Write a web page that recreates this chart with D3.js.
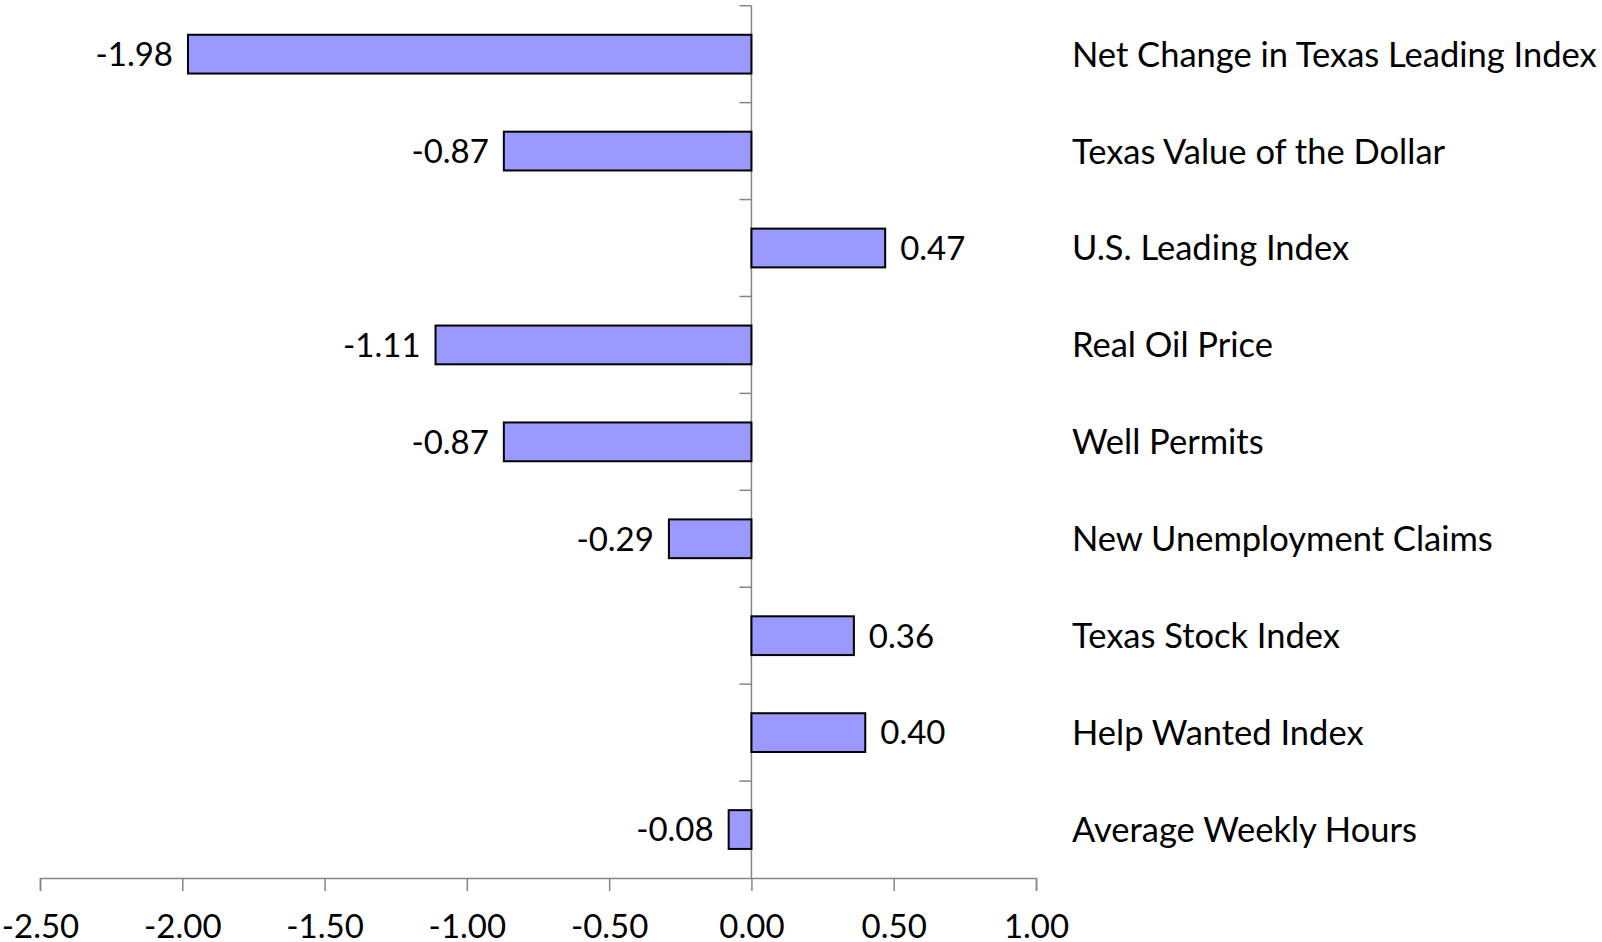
<!DOCTYPE html>
<html>
<head>
<meta charset="utf-8">
<script src="https://cdn.jsdelivr.net/npm/d3@7"></script>
<style>
  body { margin: 0; background: #fff; }
  text { font-family: Lato, "Open Sans", sans-serif; fill: #000; }
</style>
</head>
<body>
<svg width="1602" height="942"></svg>
<script>
// chart values
const categories = [
  "Net Change in Texas Leading Index",
  "Texas Value of the Dollar",
  "U.S. Leading Index",
  "Real Oil Price",
  "Well Permits",
  "New Unemployment Claims",
  "Texas Stock Index",
  "Help Wanted Index",
  "Average Weekly Hours"
];
const values = [-1.98, -0.87, 0.47, -1.11, -0.87, -0.29, 0.36, 0.40, -0.08];
const xTicks = [-2.5, -2.0, -1.5, -1.0, -0.5, 0.0, 0.5, 1.0];

let svg = d3.select("svg"),
  fontSize = 33,
  labelSize = 34.5;

let x = d3.scaleLinear()
  .domain([-2.5, 1.0])
  .range([40, 1036]);

let y = d3.scaleBand()
  .domain(categories)
  .range([5.7, 878])
  .paddingInner(0.6)
  .paddingOuter(0.3);

let axisColor = "#868686";

// x axis
let xAxis = svg.append("g")
  .attr("transform", "translate(0,878)")
  .call(d3.axisBottom(x)
    .tickValues(xTicks)
    .tickSize(13)
    .tickPadding(24)
    .tickFormat(function(d) { return d.toFixed(2); }));
xAxis.select(".domain").attr("stroke", axisColor).attr("stroke-width", 1.5);
xAxis.selectAll(".tick line").attr("stroke", axisColor).attr("stroke-width", 1.5);
xAxis.selectAll(".tick text")
  .attr("font-size", fontSize)
  .attr("font-family", "Lato")
  .attr("fill", "#000");

// y axis line at zero with boundary ticks
let gap = (y.step() - y.bandwidth()) / 2;
let bounds = categories.map(function(c) { return y(c) - gap; });
svg.append("line")
  .attr("x1", x(0)).attr("x2", x(0))
  .attr("y1", bounds[0]).attr("y2", 878)
  .attr("stroke", axisColor).attr("stroke-width", 1.5);
svg.append("g").selectAll("line")
  .data(bounds)
  .enter().append("line")
  .attr("x1", x(0) - 12).attr("x2", x(0))
  .attr("y1", function(d) { return d; })
  .attr("y2", function(d) { return d; })
  .attr("stroke", axisColor).attr("stroke-width", 1.5);

// bars
svg.append("g").selectAll("rect")
  .data(values)
  .enter().append("rect")
  .attr("x", function(d) { return x(Math.min(0, d)); })
  .attr("y", function(d, i) { return y(categories[i]); })
  .attr("width", function(d) { return Math.abs(x(d) - x(0)); })
  .attr("height", y.bandwidth())
  .attr("fill", "#9999ff")
  .attr("stroke", "#000")
  .attr("stroke-width", 2);

// value labels
svg.append("g").selectAll("text")
  .data(values)
  .enter().append("text")
  .attr("x", function(d) { return d < 0 ? x(d) - 15 : x(d) + 15; })
  .attr("y", function(d, i) { return y(categories[i]) + y.bandwidth() / 2; })
  .attr("dy", "0.36em")
  .attr("text-anchor", function(d) { return d < 0 ? "end" : "start"; })
  .attr("font-size", fontSize)
  .text(function(d) { return d.toFixed(2); });

// category labels
svg.append("g").selectAll("text")
  .data(categories)
  .enter().append("text")
  .attr("x", 1072)
  .attr("y", function(d) { return y(d) + y.bandwidth() / 2; })
  .attr("dy", "0.36em")
  .attr("font-size", labelSize)
  .text(function(d) { return d; });
</script>
</body>
</html>
